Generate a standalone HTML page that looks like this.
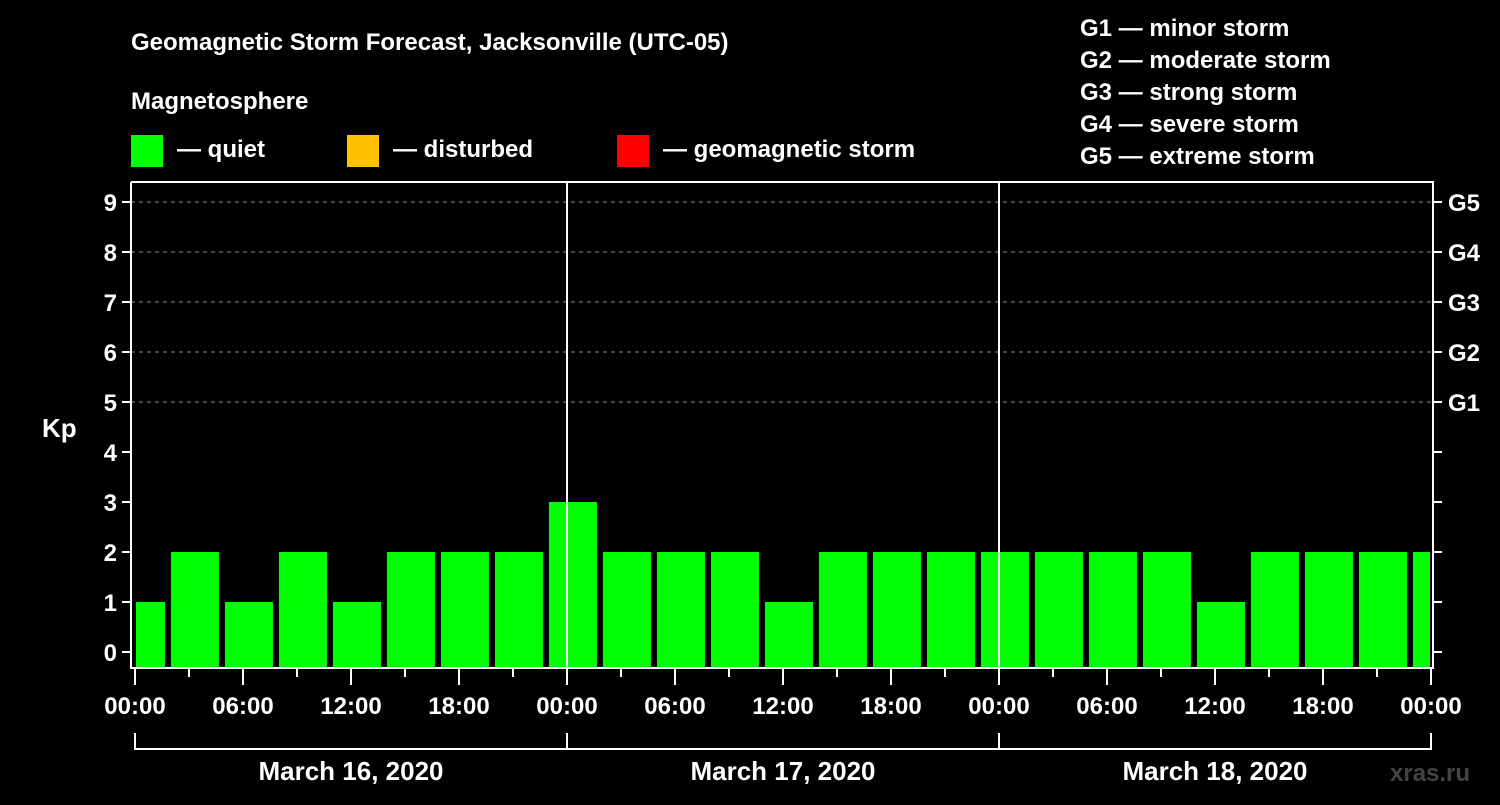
<!DOCTYPE html>
<html><head><meta charset="utf-8"><style>
body{margin:0;background:#000;width:1500px;height:800px;overflow:hidden}
svg{font-family:"Liberation Sans",sans-serif;font-weight:bold;fill:#fff}
</style></head><body>
<svg id="c" width="1500" height="800">
<text x="131" y="50" font-size="24">Geomagnetic Storm Forecast, Jacksonville (UTC-05)</text>
<text x="131" y="109" font-size="24">Magnetosphere</text>
<g><rect x="131" y="135" width="32" height="32" fill="#00ff00"/><text x="177" y="157" font-size="24">— quiet</text></g>
<g><rect x="347" y="135" width="32" height="32" fill="#ffc000"/><text x="393" y="157" font-size="24">— disturbed</text></g>
<g><rect x="617" y="135" width="32" height="32" fill="#ff0000"/><text x="663" y="157" font-size="24">— geomagnetic storm</text></g>
<g font-size="24">
<text x="1080" y="36">G1 — minor storm</text><text x="1080" y="68">G2 — moderate storm</text><text x="1080" y="100">G3 — strong storm</text><text x="1080" y="132">G4 — severe storm</text><text x="1080" y="164">G5 — extreme storm</text></g>
<text x="42" y="437" font-size="26">Kp</text>
<text x="1390" y="781" font-size="24" fill="#444" style="fill:#444">xras.ru</text>
<g id="grid"></g><g id="bars"></g><g id="axes"></g>
</svg>
<script>
const values=[1,2,1,2,1,2,2,2,3,2,2,2,1,2,2,2,2,2,2,2,1,2,2,2,2];
const yTicks=[0,1,2,3,4,5,6,7,8,9];
const gLabels=["G1","G2","G3","G4","G5"];
const xLabels=["00:00","06:00","12:00","18:00","00:00","06:00","12:00","18:00","00:00","06:00","12:00","18:00","00:00"];
const dates=["March 16, 2020","March 17, 2020","March 18, 2020"];
const NS="http://www.w3.org/2000/svg";
const L=131,R=1433,T=182,B=668,X0=135,HR=18,BAR0=-1.17;
const y=v=>652-50*v, x=h=>X0+h*HR;
function mk(p,t,a){const e=document.createElementNS(NS,t);for(const k in a)e.setAttribute(k,a[k]);p.appendChild(e);return e;}
const grid=document.getElementById('grid'),bars=document.getElementById('bars'),axes=document.getElementById('axes');
for(let v=5;v<=9;v++){const l=mk(grid,'line',{x1:L,x2:R,y1:y(v),y2:y(v),stroke:'#888','stroke-dasharray':'4,4','stroke-width':1});

}
values.forEach((v,i)=>{let x1=x(BAR0+3*i)+3,x2=x(BAR0+3*i+3)-3;x1=Math.max(x1,L+5);x2=Math.min(x2,R-3);
const r=mk(bars,'rect',{x:x1,y:y(v),width:x2-x1,height:B-y(v),fill:'#00ff00'});

});
const W={stroke:'#fff','stroke-width':2};
mk(axes,'path',Object.assign({d:`M${L} ${T}V${B}H${R}V${T}H${L}`,fill:'none'},W));
[1,2].forEach(d=>mk(axes,'line',Object.assign({x1:x(24*d),x2:x(24*d),y1:T,y2:B},W)));
yTicks.forEach(v=>{mk(axes,'line',Object.assign({x1:L-9,x2:L,y1:y(v),y2:y(v)},W));mk(axes,'line',Object.assign({x1:R,x2:R+9,y1:y(v),y2:y(v)},W));
const t=mk(axes,'text',{x:L-14,y:y(v)+9,'font-size':24,'text-anchor':'end'});t.textContent=v;

});
gLabels.forEach((g,i)=>{const t=mk(axes,'text',{x:1448,y:y(5+i)+9,'font-size':24});t.textContent=g;

});
for(let h=0;h<=72;h+=3){mk(axes,'line',Object.assign({x1:x(h),x2:x(h),y1:B,y2:B+(h%6?9:17)},W));}
xLabels.forEach((s,i)=>{const t=mk(axes,'text',{x:x(6*i),y:714,'font-size':24,'text-anchor':'middle'});t.textContent=s;

});
mk(axes,'path',Object.assign({d:`M${x(0)} 733V749H${x(72)}V733M${x(24)} 733V749M${x(48)} 733V749`,fill:'none'},W));
dates.forEach((d,i)=>{const t=mk(axes,'text',{x:x(24*i+12),y:780,'font-size':26,'text-anchor':'middle'});t.textContent=d;

});
</script>
</body></html>
